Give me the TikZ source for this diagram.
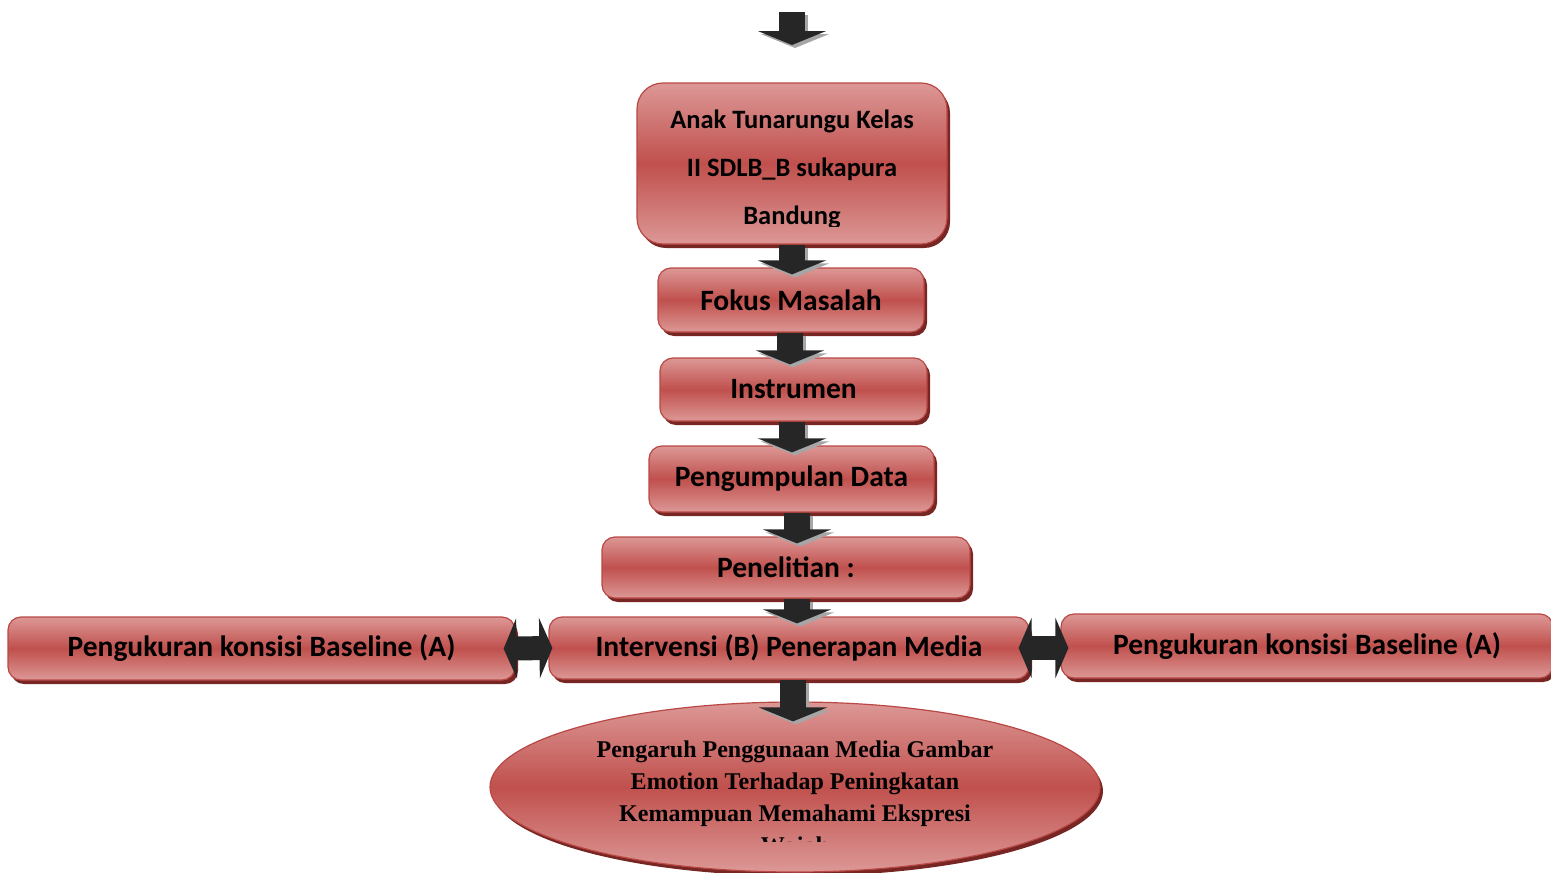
\documentclass[tikz,border=0pt]{standalone}
\usepackage{fontspec}
\setmainfont{Carlito}
\newfontfamily\goalfont{Liberation Serif}
\usetikzlibrary{shapes.geometric,shadows,arrows.meta}

\begin{document}
\begin{tikzpicture}[x=1pt,y=-1pt]
        % Define colors - light rim, darker red middle
        \definecolor{boxlight}{RGB}{220,152,150}
        \definecolor{boxmid}{RGB}{192,80,77}
        \definecolor{boxedge}{RGB}{185,72,69}
        \definecolor{boxshade}{RGB}{120,38,36}
        \definecolor{arrowfill}{RGB}{38,38,38}

        \tikzset{
            box/.style={draw=boxedge, line width=1.2pt, rounded corners=13pt,
                top color=boxlight, bottom color=boxlight, middle color=boxmid,
                drop shadow={shadow xshift=3pt, shadow yshift=-4pt, fill=boxshade, opacity=1},
                font=\fontsize{29.5}{32}\selectfont\bfseries, align=center, inner sep=0pt},
            goal/.style={ellipse, draw=boxedge, line width=1.2pt,
                top color=boxlight, bottom color=boxlight, middle color=boxmid,
                drop shadow={shadow xshift=3pt, shadow yshift=-4pt, fill=boxshade, opacity=1},
                inner sep=0pt},
            flow/.style={line width=26pt, draw=arrowfill, shorten >=-7pt,
                -{Triangle[width=68pt,length=14pt]}},
            flowshade/.style={flow, draw=black!35, transform canvas={shift={(3pt,-3pt)}}},
            sideflow/.style={line width=24pt, draw=arrowfill,
                {Triangle[width=60pt,length=13pt]}-{Triangle[width=60pt,length=13pt]}},
        }

        \useasboundingbox (0,0) rectangle (1551,873);

        % Boxes - from top to bottom
        \node[box, rounded corners=26pt, minimum width=310pt, minimum height=161pt] (anak) at (792,163.5) {};
        \begin{scope}
            \clip (637,83) rectangle (947,226);
            \node[font=\fontsize{26.5}{48}\selectfont\bfseries, align=center] (anaktext) at (792,169.5)
                {Anak Tunarungu Kelas\\ II SDLB\_B sukapura\\ Bandung};
        \end{scope}
        \node[box, minimum width=266pt, minimum height=64pt] (fokus) at (791,300) {Fokus Masalah};
        \node[box, minimum width=267pt, minimum height=63pt] (instr) at (793.5,389.5) {Instrumen};
        \node[box, minimum width=285pt, minimum height=66pt] (kumpul) at (791.5,479) {Pengumpulan Data};
        \node[box, minimum width=368pt, minimum height=61pt] (teliti) at (786,567.5) {Penelitian :};

        % Middle row
        \node[box, minimum width=480pt, minimum height=62pt] (interv) at (789,648) {Intervensi (B) Penerapan Media};
        \node[box, minimum width=507pt, minimum height=63pt] (baseA) at (261.5,648.5) {Pengukuran konsisi Baseline (A)};
        \node[box, minimum width=492pt, minimum height=64pt] (baseB) at (1307,646) {Pengukuran konsisi Baseline (A)};

        % Result
        \node[goal, minimum width=610pt, minimum height=170pt] (hasil) at (795,787) {};
        \begin{scope}
            \clip (560,705) rectangle (1030,841);
            \node[font=\goalfont\fontsize{24}{32}\selectfont\bfseries, align=center] (hasiltext) at (795,800)
                {Pengaruh Penggunaan Media Gambar\\ Emotion Terhadap Peningkatan\\ Kemampuan Memahami Ekspresi\\ Wajah};
        \end{scope}

        % Arrows
        \coordinate (mulai) at (792,12);
        \coordinate (mulaiend) at (792,38);
        \draw[flowshade] (mulai) -- (mulaiend);
        \draw[flow] (mulai) -- (mulaiend);

        \foreach \a/\b/\dx in {anak/fokus/0, fokus/instr/-1, instr/kumpul/-1.5, kumpul/teliti/5.5, teliti/interv/11}
        {
            \draw[flowshade] ([xshift=\dx pt]\a.south) -- ([xshift=\dx pt]\a.south |- \b.north);
            \draw[flow] ([xshift=\dx pt]\a.south) -- ([xshift=\dx pt]\a.south |- \b.north);
        }

        \draw[flowshade, shorten >=-20pt] ([xshift=4pt]interv.south) -- ([xshift=4pt]interv.south |- hasil.north);
        \draw[flow, shorten >=-20pt] ([xshift=4pt]interv.south) -- ([xshift=4pt]interv.south |- hasil.north);

        \draw[sideflow, shorten <=-12pt, shorten >=-4pt] (baseA.east) -- (interv.west);
        \draw[sideflow, shorten <=-11pt, shorten >=-8pt] (interv.east) -- (interv.east -| baseB.west);
    \end{tikzpicture}
\end{document}
